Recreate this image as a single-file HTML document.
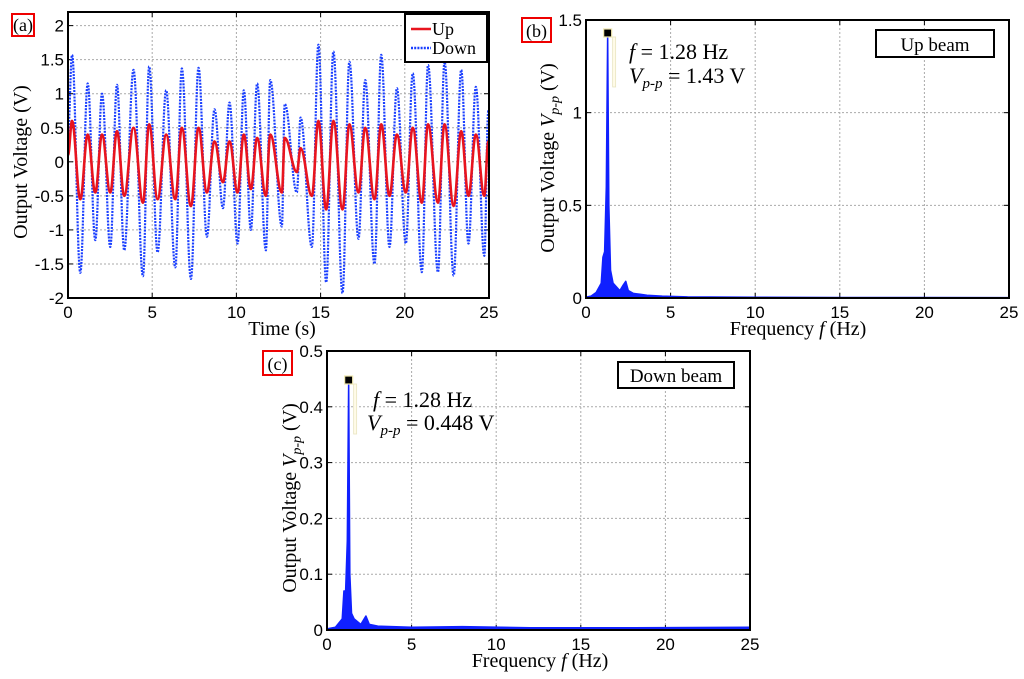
<!DOCTYPE html>
<html><head><meta charset="utf-8"><style>
body{margin:0;background:#fff;width:1024px;height:679px;overflow:hidden}
svg{display:block}
text{font-family:"Liberation Sans",sans-serif}
.ser{font-family:"Liberation Serif",serif}
</style></head><body>
<svg id="s" width="1024" height="679" viewBox="0 0 1024 679"></svg>
<script>
// ---- Panel (a) data: extrema of time series ----
const downT=[0,0.24,1.17,2.02,2.91,3.89,4.82,5.83,6.76,7.75,8.70,9.59,10.44,11.23,12.01,12.87,13.81,14.87,15.76,16.71,17.65,18.60,19.53,20.47,21.38,22.36,23.35,24.22,24.96];
const downMaxV=[0.4,1.57,1.15,1.0,1.13,1.35,1.4,1.05,1.37,1.38,0.77,0.87,1.05,1.15,1.2,0.85,0.65,1.72,1.62,1.47,1.2,1.57,1.08,1.3,1.42,1.47,1.35,1.1,0.75];
const downMinT=[0.73,1.62,2.51,3.34,4.45,5.32,6.37,7.30,8.25,9.20,10.07,10.86,11.75,12.70,13.59,14.48,15.33,16.30,17.25,18.20,19.09,20.06,21.01,21.97,22.90,23.78,24.72];
const downMinV=[-1.63,-1.15,-1.25,-1.3,-1.68,-1.33,-1.55,-1.72,-1.1,-0.68,-1.2,-1.0,-1.3,-0.95,-0.45,-1.25,-1.77,-1.93,-1.13,-1.5,-1.25,-1.2,-1.62,-1.62,-1.67,-1.2,-1.38];
const upMaxV=[0.1,0.6,0.4,0.4,0.45,0.5,0.55,0.4,0.5,0.5,0.3,0.3,0.4,0.35,0.4,0.35,0.2,0.6,0.6,0.55,0.5,0.55,0.4,0.5,0.55,0.55,0.45,0.4,0.3];
const upMinV=[-0.55,-0.45,-0.45,-0.5,-0.6,-0.55,-0.55,-0.65,-0.45,-0.3,-0.45,-0.4,-0.5,-0.45,-0.15,-0.5,-0.7,-0.7,-0.45,-0.55,-0.5,-0.45,-0.6,-0.6,-0.65,-0.5,-0.5];
// ---- Panel (b) spectrum ----
const freqB=[0,0.3,0.6,0.9,1.0,1.1,1.2,1.28,1.35,1.45,1.6,1.8,2.0,2.2,2.35,2.5,2.8,3.2,3.6,4.5,6,10,15,20,25];
const ampB=[0.005,0.01,0.03,0.08,0.22,0.25,0.6,1.43,0.5,0.15,0.08,0.06,0.04,0.07,0.09,0.04,0.025,0.02,0.015,0.01,0.006,0.004,0.003,0.003,0.002];
// ---- Panel (c) spectrum ----
const freqC=[0,0.5,0.9,1.0,1.1,1.2,1.28,1.35,1.45,1.6,2.0,2.3,2.5,3,5,8,12,18,25];
const ampC=[0.002,0.005,0.02,0.07,0.07,0.16,0.448,0.1,0.03,0.02,0.01,0.025,0.01,0.007,0.005,0.006,0.004,0.004,0.005];
const xTicks=[0,5,10,15,20,25];
const aTicks=[-2,-1.5,-1,-0.5,0,0.5,1,1.5,2];
const bTicks=[0,0.5,1,1.5];
const cTicks=[0,0.1,0.2,0.3,0.4,0.5];

const NS="http://www.w3.org/2000/svg";
const svg=document.getElementById('s');
function el(tag,attrs,parent,txt){const e=document.createElementNS(NS,tag);for(const k in attrs)e.setAttribute(k,attrs[k]);if(txt!==undefined)e.textContent=txt;(parent||svg).appendChild(e);return e;}

function axes(P,name){
  const g=el('g',{});
  
  
  const X=v=>P.x0+(v-P.xmin)/(P.xmax-P.xmin)*(P.x1-P.x0);
  const Y=v=>P.y0-(v-P.ymin)/(P.ymax-P.ymin)*(P.y0-P.y1);
  P.xt.forEach(t=>{
    const x=X(t);
    const gl=el('line',{x1:x,x2:x,y1:P.y1,y2:P.y0,stroke:'#aaa','stroke-width':1,'stroke-dasharray':'2,2'},g);
    
    el('line',{x1:x,x2:x,y1:P.y0,y2:P.y0-5,stroke:'#000'},g);
    el('line',{x1:x,x2:x,y1:P.y1,y2:P.y1+5,stroke:'#000'},g);
    const tl=el('text',{x:x,y:P.y0+20,'font-size':17,'text-anchor':'middle'},g,String(t));
    
  });
  P.yt.forEach(t=>{
    const y=Y(t);
    const gl=el('line',{x1:P.x0,x2:P.x1,y1:y,y2:y,stroke:'#aaa','stroke-width':1,'stroke-dasharray':'2,2'},g);
    
    el('line',{x1:P.x0,x2:P.x0+5,y1:y,y2:y,stroke:'#000'},g);
    el('line',{x1:P.x1,x2:P.x1-5,y1:y,y2:y,stroke:'#000'},g);
    const tl=el('text',{x:P.x0-4,y:y+6,'font-size':17,'text-anchor':'end'},g,String(t));
    
  });
  return {g,X,Y};
}
function frame(P,g){const r=el('rect',{x:P.x0,y:P.y1,width:P.x1-P.x0,height:P.y0-P.y1,fill:'none',stroke:'#000','stroke-width':2},g);}
function smoothPath(pts){let d='M'+pts[0][0]+','+pts[0][1];for(let i=1;i<pts.length;i++){const [xa,ya]=pts[i-1],[xb,yb]=pts[i];const dx=(xb-xa)/2.6;d+=` C${xa+dx},${ya} ${xb-dx},${yb} ${xb},${yb}`;}return d;}
function label(x,y,w,h,t,name){const r=el('rect',{x:x,y:y,width:w,height:h,fill:'none',stroke:'#e00','stroke-width':2});const tx=el('text',{x:x+w/2,y:y+h-5,'font-size':18,'text-anchor':'middle',class:'ser'},svg,t);}

// ===== Panel a =====
const PA={x0:68,x1:489,y0:298,y1:12,xmin:0,xmax:25,ymin:-2,ymax:2.2,xt:xTicks,yt:aTicks};
const A=axes(PA,'panel-a-axes');
function series(maxT,maxV,minT,minV){const pts=[];for(let i=0;i<maxT.length;i++){pts.push([maxT[i],maxV[i]]);if(i<minT.length)pts.push([minT[i],minV[i]]);}pts.sort((a,b)=>a[0]-b[0]);return pts;}
const dPts=series(downT,downMaxV,downMinT,downMinV).map(p=>[A.X(p[0]),A.Y(p[1])]);
const uPts=series(downT,upMaxV,downMinT,upMinV).map(p=>[A.X(p[0]),A.Y(p[1])]);
const dl=el('path',{d:smoothPath(dPts),fill:'none',stroke:'#1a3fff','stroke-width':2.2,'stroke-dasharray':'2,1.2'},A.g);

const ul=el('path',{d:smoothPath(uPts),fill:'none',stroke:'#e8141e','stroke-width':2.6},A.g);

frame(PA,A.g);
const lg=el('g',{});
el('rect',{x:405,y:14,width:82,height:48,fill:'#fff',stroke:'#000','stroke-width':2},lg);
el('line',{x1:411,x2:431,y1:29,y2:29,stroke:'#e8141e','stroke-width':2.5},lg);
const le1=el('text',{x:432,y:35,'font-size':18,class:'ser'},lg,'Up');
el('line',{x1:411,x2:431,y1:48,y2:48,stroke:'#1a3fff','stroke-width':2.5,'stroke-dasharray':'2,1.2'},lg);
const le2=el('text',{x:432,y:54,'font-size':18,class:'ser'},lg,'Down');
let t=el('text',{x:282,y:335,'font-size':20,'text-anchor':'middle',class:'ser'},svg,'Time (s)');
t=el('text',{x:0,y:0,'font-size':20,'text-anchor':'middle',class:'ser',transform:'translate(27,162) rotate(-90)'},svg,'Output Voltage (V)');
label(12,14,22,22,'(a)','panel-label-a');

// ===== Spectrum panels =====
function spectrum(P,fr,am,name,pk,box,boxT,ann,vtxt,ytitle,xtitle){
  const S=axes(P,name+'-axes');
  let d='M'+S.X(fr[0])+','+S.Y(0);
  fr.forEach((f,i)=>{d+=' L'+S.X(f)+','+S.Y(am[i]);});
  d+=' L'+S.X(fr[fr.length-1])+','+S.Y(0)+' Z';
  const a=el('path',{d:d,fill:'#1020ff',stroke:'#1020ff','stroke-width':1.5,'stroke-linejoin':'round'},S.g);
  
  const pi=am.indexOf(Math.max(...am));
  const px=S.X(fr[pi]),py=S.Y(am[pi]);
  el('rect',{x:px+5,y:py+4,width:3,height:50,fill:'#fffbe8',stroke:'#e8e4c0','stroke-width':0.8},S.g);
  const m=el('rect',{x:px-4,y:py-4,width:8,height:8,fill:'#000',stroke:'#f0e8b0','stroke-width':1.2},S.g);
  
  frame(P,S.g);
  const b=el('rect',{x:box[0],y:box[1],width:box[2],height:box[3],fill:'#fff',stroke:'#000','stroke-width':2});
  
  const bt=el('text',{x:box[0]+box[2]/2,y:box[1]+box[3]-6,'font-size':19,'text-anchor':'middle',class:'ser'},svg,boxT);
  
  const a1=el('text',{x:ann[0],y:ann[1],'font-size':22,class:'ser'});
  
  el('tspan',{'font-style':'italic'},a1,'f');el('tspan',{},a1,' = 1.28 Hz');
  const a2=el('text',{x:ann[2],y:ann[3],'font-size':22,class:'ser'});
  
  el('tspan',{'font-style':'italic'},a2,'V');el('tspan',{'font-style':'italic','font-size':15,dy:5},a2,'p-p');el('tspan',{dy:-5},a2,' = '+vtxt);
  const xt=el('text',{x:xtitle[0],y:xtitle[1],'font-size':20,'text-anchor':'middle',class:'ser'});
  
  el('tspan',{},xt,'Frequency ');el('tspan',{'font-style':'italic'},xt,'f');el('tspan',{},xt,' (Hz)');
  const yt=el('text',{x:0,y:0,'font-size':20,'text-anchor':'middle',class:'ser',transform:`translate(${ytitle[0]},${ytitle[1]}) rotate(-90)`});
  
  el('tspan',{},yt,'Output Voltage ');el('tspan',{'font-style':'italic'},yt,'V');el('tspan',{'font-style':'italic','font-size':14,dy:5},yt,'p-p');el('tspan',{dy:-5},yt,' (V)');
}
spectrum({x0:586,x1:1009,y0:298,y1:20,xmin:0,xmax:25,ymin:0,ymax:1.5,xt:xTicks,yt:bTicks},freqB,ampB,'panel-b',0,[876,30,118,27],'Up beam',[629,59,629,83],'1.43 V',[554,158],[798,335]);
label(522,18,29,24,'(b)','panel-label-b');
spectrum({x0:327,x1:750,y0:630,y1:351,xmin:0,xmax:25,ymin:0,ymax:0.5,xt:xTicks,yt:cTicks},freqC,ampC,'panel-c',0,[618,362,116,26],'Down beam',[373,407,367,430],'0.448 V',[296,498],[540,667]);
label(263,351,29,24,'(c)','panel-label-c');
</script>
</body></html>
